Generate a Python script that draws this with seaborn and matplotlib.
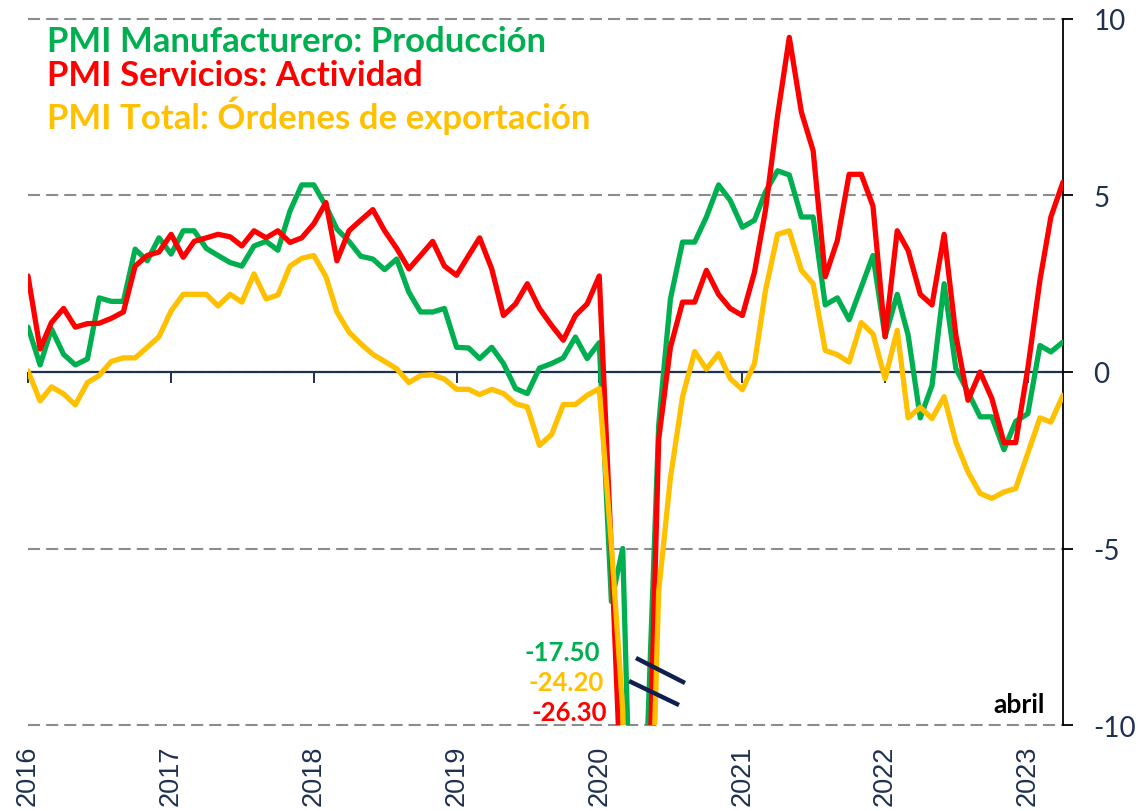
import pandas as pd
import numpy as np
import matplotlib
matplotlib.use("Agg")
import matplotlib.pyplot as plt
import seaborn as sns

# monthly data, Jan 2016 - Apr 2023
fechas = pd.date_range("2016-01-01", "2023-04-01", freq="MS")

manufactura = [1.27, 0.2, 1.22, 0.5, 0.2, 0.37, 2.1, 2.0, 2.0, 3.48, 3.15, 3.8,
               3.34, 4.0, 4.0, 3.5, 3.3, 3.1, 3.0, 3.57, 3.7, 3.45, 4.56, 5.3,
               5.3, 4.7, 4.05, 3.7, 3.28, 3.2, 2.9, 3.2, 2.26, 1.7, 1.7, 1.8,
               0.7, 0.68, 0.38, 0.7, 0.24, -0.47, -0.61, 0.11, 0.24, 0.4, 0.99, 0.38,
               0.83, -6.5, -5.0, -17.5, -11.0, -1.5, 2.07, 3.68, 3.68, 4.39, 5.3, 4.86,
               4.1, 4.3, 5.1, 5.7, 5.58, 4.39, 4.39, 1.9, 2.1, 1.48, 2.4, 3.3,
               1.0, 2.2, 1.04, -1.3, -0.38, 2.5, 0.1, -0.57, -1.27, -1.27, -2.2, -1.4,
               -1.18, 0.75, 0.57, 0.85]

servicios = [2.72, 0.65, 1.4, 1.8, 1.27, 1.37, 1.38, 1.52, 1.7, 3.0, 3.3, 3.4,
             3.9, 3.25, 3.7, 3.8, 3.9, 3.83, 3.57, 4.0, 3.8, 4.0, 3.67, 3.8,
             4.2, 4.8, 3.15, 4.0, 4.3, 4.6, 4.0, 3.5, 2.92, 3.3, 3.7, 3.0,
             2.74, 3.3, 3.8, 2.92, 1.6, 1.93, 2.5, 1.8, 1.32, 0.9, 1.6, 1.93,
             2.72, -5.1, -13.1, -26.3, -14.6, -1.9, 0.7, 1.98, 1.98, 2.88, 2.2, 1.8,
             1.6, 2.83, 4.58, 7.26, 9.48, 7.36, 6.27, 2.7, 3.73, 5.6, 5.6, 4.7,
             1.0, 4.0, 3.44, 2.2, 1.9, 3.9, 1.04, -0.8, 0.0, -0.75, -2.0, -2.0,
             0.1, 2.6, 4.39, 5.38]

exportacion = [0.03, -0.82, -0.42, -0.62, -0.93, -0.3, -0.1, 0.3, 0.4, 0.4, 0.7, 1.0,
               1.73, 2.2, 2.2, 2.2, 1.87, 2.2, 1.98, 2.78, 2.07, 2.18, 3.0, 3.22,
               3.3, 2.7, 1.7, 1.13, 0.8, 0.5, 0.3, 0.09, -0.3, -0.1, -0.08, -0.2,
               -0.49, -0.49, -0.64, -0.49, -0.61, -0.9, -0.99, -2.08, -1.77, -0.92, -0.92, -0.66,
               -0.47, -4.9, -9.6, -24.2, -17.9, -6.2, -3.0, -0.7, 0.58, 0.08, 0.52, -0.19,
               -0.5, 0.24, 2.3, 3.9, 4.0, 2.88, 2.5, 0.61, 0.49, 0.28, 1.4, 1.08,
               -0.19, 1.18, -1.3, -1.0, -1.32, -0.7, -1.98, -2.83, -3.44, -3.58, -3.4, -3.3,
               -2.3, -1.3, -1.42, -0.66]

series = ["PMI Manufacturero: Producción", "PMI Servicios: Actividad",
          "PMI Total: Órdenes de exportación"]
colores = ["#00B050", "#FF0000", "#FFC000"]
anios = list(range(2016, 2024))
yticks = [-10, -5, 0, 5, 10]

navy = "#1F3151"

df = pd.DataFrame({
    "fecha": np.tile(fechas, 3),
    "valor": manufactura + servicios + exportacion,
    "serie": np.repeat(series, len(fechas)),
})

sns.set_style("white")
plt.rcParams["font.family"] = ["Lato", "DejaVu Sans"]

fig = plt.figure(figsize=(11.4, 8.12), dpi=100)
ax = fig.add_axes([0.02456, 0.1059, 0.9079, 0.8695])

ax.axhline(0, color=navy, lw=1.6, zorder=1.5)
sns.lineplot(data=df, x="fecha", y="valor", hue="serie", hue_order=series,
             palette=colores, linewidth=3.8, estimator=None, legend=False, ax=ax,
             zorder=3)

ax.set_xlim(fechas[0], fechas[-1])
ax.set_ylim(-10, 10)
ax.set_xlabel("")
ax.set_ylabel("")

# y axis on the right
ax.yaxis.tick_right()
ax.set_yticks(yticks)
ax.set_yticklabels([str(v) for v in yticks])
ax.tick_params(axis="y", right=True, direction="out", length=7, width=1.3,
               color="black", pad=15, labelsize=20, labelcolor=navy)
ax.yaxis.grid(True, linestyle=(0, (5.8, 2.9)), color="#8C8C8C", lw=1.5)
ax.xaxis.grid(False)
for gl in ax.get_ygridlines():
    gl.set_clip_on(False)

for s in ["top", "left", "bottom"]:
    ax.spines[s].set_visible(False)
ax.spines["right"].set_color("black")
ax.spines["right"].set_linewidth(1.3)

# year labels at the bottom
ticks_anio = [pd.Timestamp(f"{a}-01-01") for a in anios]
ax.set_xticks(ticks_anio)
ax.set_xticklabels([str(a) for a in anios], rotation=90, fontsize=19.5,
                   color=navy, family="Liberation Sans")
ax.tick_params(axis="x", length=0, pad=14)

# tick marks on the zero line
sec = ax.secondary_xaxis(0.5)
sec.set_alignment("bottom")
sec.set_xticks(ticks_anio)
sec.tick_params(axis="x", direction="out", length=8, width=1.4, color=navy,
                labelbottom=False, labeltop=False)
for s in sec.spines.values():
    s.set_visible(False)

# series names
y_txt = [0.9547, 0.9065, 0.8456]
for nombre, col, yy in zip(series, colores, y_txt):
    ax.text(0.0184, yy, nombre, transform=ax.transAxes, color=col,
            fontsize=25, fontweight="bold", va="baseline", ha="left")

# minimum values (off scale)
minimos = [min(manufactura), min(exportacion), min(servicios)]
cols_min = [colores[0], colores[2], colores[1]]
pos_min = [(0.5527, 0.1034), (0.5565, 0.0609), (0.5594, 0.0184)]
for v, c, (px, py) in zip(minimos, cols_min, pos_min):
    ax.text(px, py, f"{v:.2f}", transform=ax.transAxes, color=c,
            fontsize=18.5, fontweight="bold", ha="right", va="center")

# axis break marks
ax.plot([0.5874, 0.6348], [0.0949, 0.0595], transform=ax.transAxes,
        color="#0F1F4F", lw=3.2, solid_capstyle="butt", zorder=5)
ax.plot([0.5807, 0.6290], [0.0623, 0.0283], transform=ax.transAxes,
        color="#0F1F4F", lw=3.2, solid_capstyle="butt", zorder=5)

ax.text(0.9826, 0.0184, "abril", transform=ax.transAxes, color="black",
        fontsize=19, fontweight="bold", ha="right", va="baseline")

fig.savefig("out.png", dpi=100)
